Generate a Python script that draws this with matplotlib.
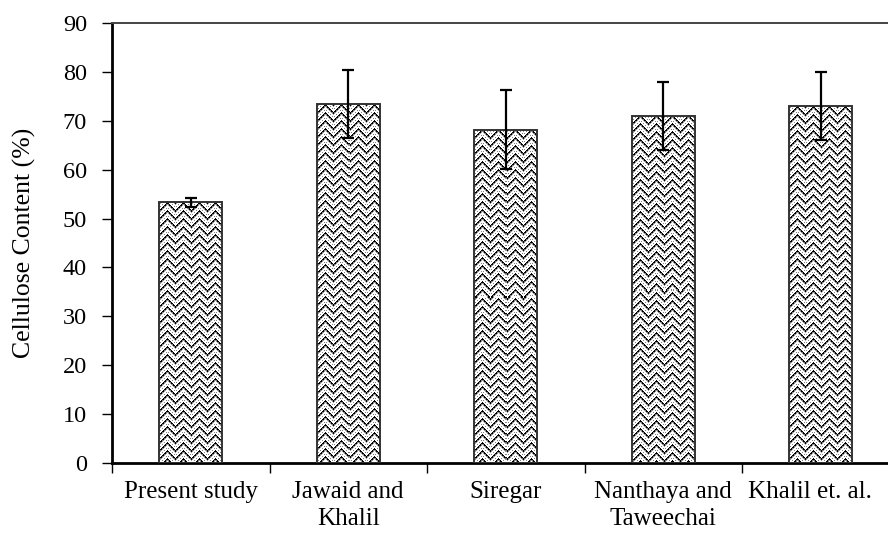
import matplotlib

matplotlib.use("Agg")
import matplotlib.pyplot as plt
import matplotlib.transforms as mtransforms
import numpy as np

studies = ["Present study", "Jawaid and\nKhalil", "Siregar", "Nanthaya and\nTaweechai", "Khalil et. al."]
cellulose = [53.3, 73.4, 68.2, 71.0, 73.0]
errors = [1.0, 7.0, 8.0, 7.0, 7.0]
yticks = [0, 10, 20, 30, 40, 50, 60, 70, 80, 90]

plt.rcParams["font.family"] = ["Liberation Serif", "DejaVu Serif"]

W, H, DPI = 888, 536, 100
fig = plt.figure(figsize=(W / DPI, H / DPI), dpi=DPI)
# plot area runs off the right edge, as in the original
ax = fig.add_axes([112 / W, 73 / H, 787.5 / W, 440 / H])

x = np.arange(len(studies))
bar_w = 0.40
ax.set_xlim(-0.5, len(studies) - 0.5)
ax.set_ylim(0, 90)


def chevron_tile(period=16, gap=8):
    """Zig-zag tile: dithered black line with grey fringe, repeated every `gap` rows."""
    tile = np.ones((gap, period))
    for c in range(period):
        tri = abs(c - period // 2)
        tile[tri % gap, c] = 0.0
        tile[(tri + 1) % gap, c] = 0.0 if c % 2 == 0 else 0.45
        tile[(tri + 2) % gap, c] = 0.6
        if c % 2 == 1:
            tile[(tri + 5) % gap, c] = 0.5
    return tile


tile = chevron_tile()
bars = ax.bar(x, cellulose, width=bar_w, facecolor="none", edgecolor="#333333",
              linewidth=1.4, zorder=3)
for rect in bars:
    x0, y0 = ax.transData.transform((rect.get_x(), 0))
    x1, y1 = ax.transData.transform((rect.get_x() + rect.get_width(), rect.get_height()))
    nw, nh = int(round(x1 - x0)), int(round(y1 - y0))
    reps = (nh // tile.shape[0] + 2, nw // tile.shape[1] + 2)
    img = np.tile(tile, reps)[:nh, :nw]
    im = ax.imshow(img, cmap="gray", vmin=0, vmax=1, interpolation="nearest",
                   extent=(rect.get_x(), rect.get_x() + rect.get_width(), 0, rect.get_height()),
                   aspect="auto", origin="upper", zorder=2)
    im.set_clip_path(rect)

ax.errorbar(x, cellulose, yerr=errors, fmt="none", ecolor="black",
            elinewidth=1.6, capsize=4.5, capthick=1.6, zorder=4)

ax.set_xlim(-0.5, len(studies) - 0.5)
ax.set_ylim(0, 90)
ax.set_yticks(yticks)
ax.set_xticks(x)
ax.set_xticklabels(studies, fontsize=18, linespacing=1.3)
ax.set_xticks(np.arange(len(studies) + 1) - 0.5, minor=True)
ax.tick_params(axis="x", which="major", length=0, pad=13)
ax.tick_params(axis="x", which="minor", length=7, width=1.0, direction="out")
ax.tick_params(axis="y", length=7, width=1.0, direction="out", labelsize=17.5, pad=11)

# last label is pulled in so it stays inside the picture
last = ax.get_xticklabels()[-1]
last.set_transform(last.get_transform() + mtransforms.ScaledTranslation(-0.11, 0, fig.dpi_scale_trans))

ax.set_ylabel("Cellulose Content (%)", fontsize=18.5)
ax.yaxis.set_label_coords(-0.096, 0.5)

ax.spines["left"].set_linewidth(2.0)
ax.spines["bottom"].set_linewidth(2.0)
ax.spines["top"].set_color("#444444")
ax.spines["top"].set_linewidth(1.4)
ax.spines["right"].set_visible(False)

fig.savefig("out.png", dpi=DPI)
